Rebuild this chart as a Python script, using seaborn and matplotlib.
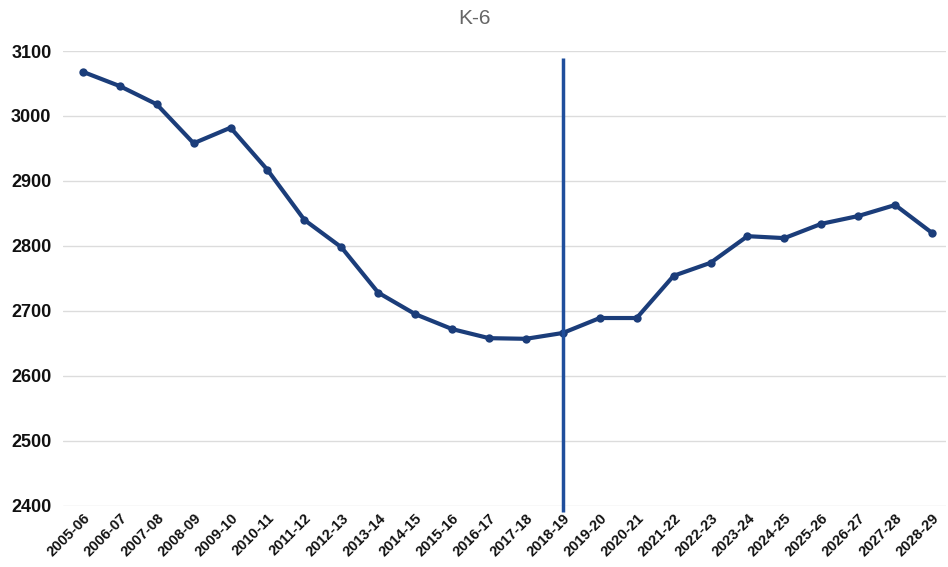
import matplotlib
matplotlib.use("Agg")
import matplotlib.pyplot as plt
import pandas as pd
import seaborn as sns

# school years and K-6 enrolment
years = ["2005-06", "2006-07", "2007-08", "2008-09", "2009-10", "2010-11",
         "2011-12", "2012-13", "2013-14", "2014-15", "2015-16", "2016-17",
         "2017-18", "2018-19", "2019-20", "2020-21", "2021-22", "2022-23",
         "2023-24", "2024-25", "2025-26", "2026-27", "2027-28", "2028-29"]
enrolment = [3068, 3046, 3018, 2958, 2982, 2917, 2840, 2798, 2728, 2695,
             2672, 2658, 2657, 2666, 2689, 2689, 2754, 2774, 2815, 2812,
             2834, 2846, 2863, 2820]
split_year = "2018-19"
y_ticks = [2400, 2500, 2600, 2700, 2800, 2900, 3000, 3100]

df = pd.DataFrame({"year": years, "enrolment": enrolment})
df["pos"] = range(len(years))

sns.set_style("white")
plt.rcParams["font.family"] = ["Liberation Sans", "DejaVu Sans"]

fig = plt.figure(figsize=(9.48, 5.67), dpi=100)
ax = fig.add_axes([0.066, 0.108, 0.932, 0.802])

sns.lineplot(data=df, x="pos", y="enrolment", ax=ax, color="#1b3d7a",
             linewidth=3, marker="o", markersize=6, markeredgewidth=0)

split_pos = years.index(split_year)
ax.vlines(split_pos, 2390, 3090, color="#1f4e9c", linewidth=2.5,
          clip_on=False, zorder=3)

ax.set_ylim(2400, 3100)
ax.set_xlim(-0.55, len(years) - 0.62)
ax.set_yticks(y_ticks)
ax.set_yticklabels([str(v) for v in y_ticks], fontsize=13, fontweight="bold",
                   color="#111111")
ax.set_xticks(df["pos"])
ax.set_xticklabels(years, rotation=45, ha="right", rotation_mode="anchor",
                   fontsize=10.5, fontweight="bold", color="#111111")
ax.tick_params(axis="both", length=0, pad=4)
ax.tick_params(axis="y", pad=8)

ax.grid(axis="y", color="#dcdcdc", linewidth=1)
ax.set_axisbelow(True)
for s in ax.spines.values():
    s.set_visible(False)
ax.set_xlabel("")
ax.set_ylabel("")

fig.text(0.5, 0.968, "K-6", ha="center", va="center", fontsize=15,
         color="#666666")

fig.savefig("out.png", dpi=100)
